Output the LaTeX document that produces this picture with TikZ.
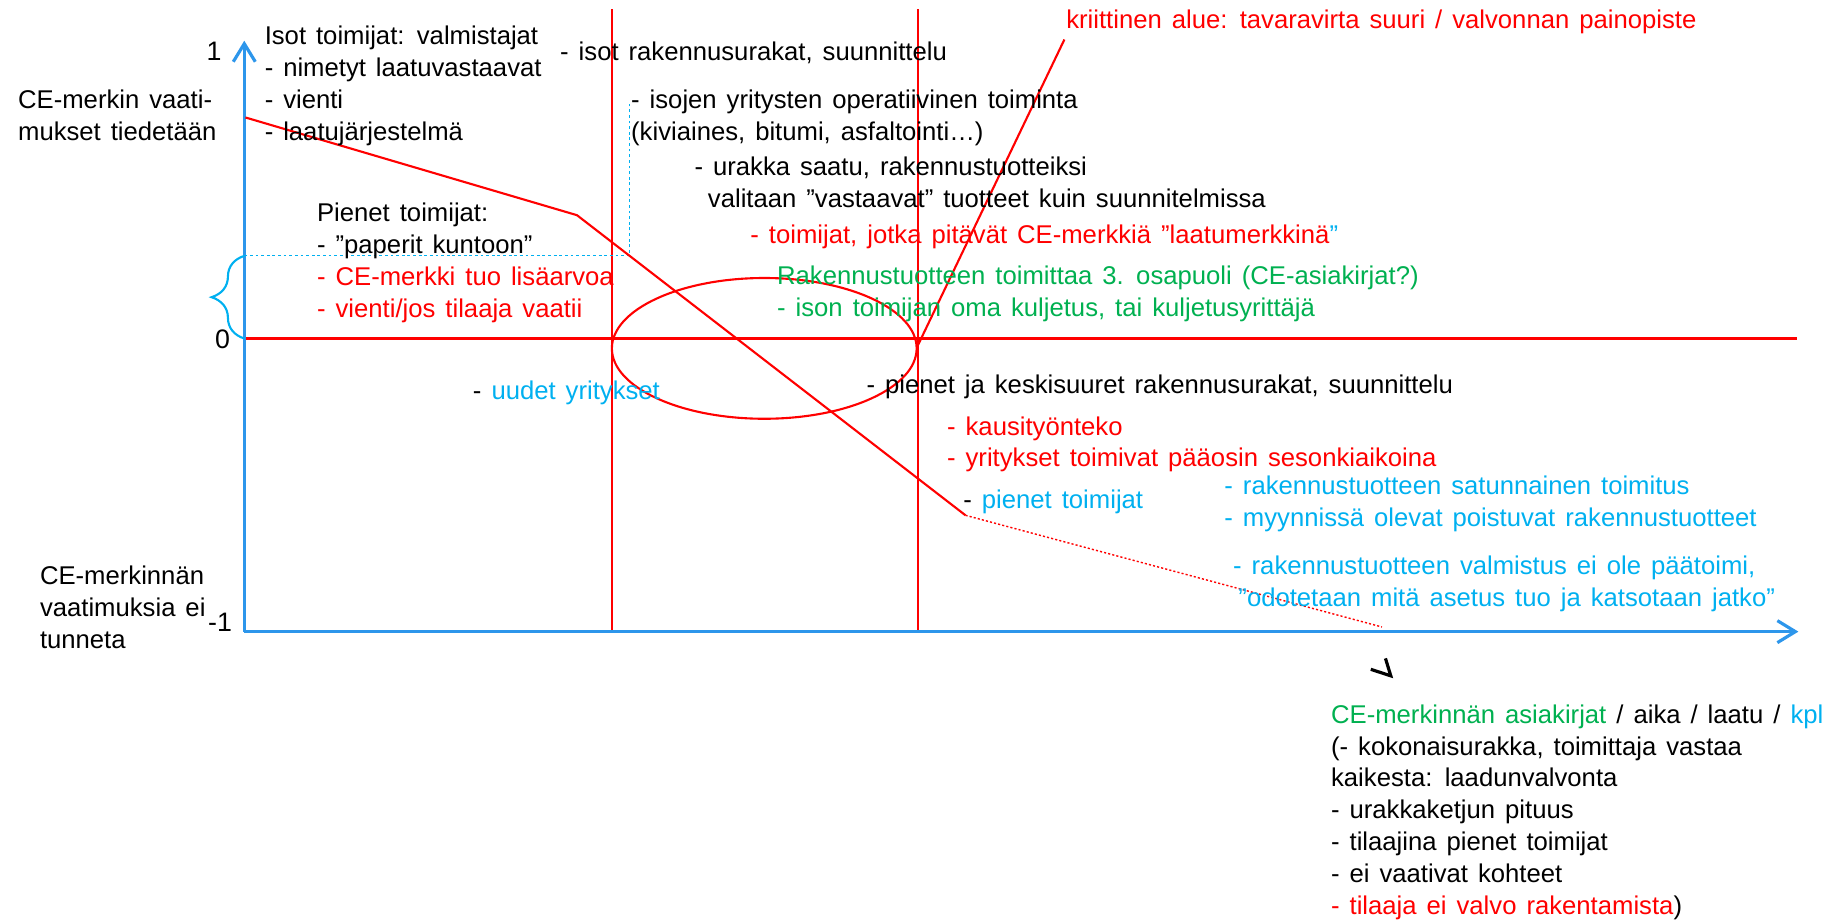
\documentclass[tikz,border=0pt]{standalone}
\usepackage{fontspec}
\setmainfont{Liberation Sans}[WordSpace=1.4]
\usepackage{xcolor}
\usetikzlibrary{arrows.meta, positioning, decorations.pathreplacing}
\definecolor{axisblue}{RGB}{45,150,235}
\definecolor{notegreen}{RGB}{0,176,80}
\definecolor{noteblue}{RGB}{0,176,240}
\tikzset{
    axis/.style={draw=axisblue, line width=0.9pt, -{Straight Barb[length=1.8mm, width=2.2mm]}},
    border/.style={draw=red, line width=0.5pt},
    zeroline/.style={draw=red, line width=1pt},
    trend/.style={draw=red, line width=0.6pt},
    guide/.style={draw=noteblue, line width=0.3pt, dash pattern=on 0.8pt off 0.8pt},
    % multi-line notes: base = baseline of the last line
    note/.style={anchor=base west, align=left, inner sep=0pt, font=\fontsize{7.3}{9.07}\selectfont},
    tick/.style={anchor=base east, inner sep=0pt, font=\fontsize{7.6}{9}\selectfont}
}

\begin{document}
\begin{tikzpicture}[x=0.011633cm, y=-0.011633cm]
    \useasboundingbox (0,0) rectangle (1568,793);

    % axes and grid lines
    \coordinate (o) at (210,543);
    \coordinate (ytop) at (210,35);
    \coordinate (xend) at (1546,543);
    \coordinate (z0) at (210,291);
    \coordinate (z1) at (1545,291);
    \coordinate (v1top) at (526,8);
    \coordinate (v1bot) at (526,543);
    \coordinate (v2top) at (789,8);
    \coordinate (v2bot) at (789,543);

    \draw[zeroline] (z0) -- (z1);
    \draw[border] (v1top) -- (v1bot);
    \draw[border] (v2top) -- (v2bot);
    \draw[axis] (o) -- (ytop);
    \draw[axis] (o) -- (xend);

    \node[tick] (t1) at (191,51.6) {1};
    \node[tick] (t0) at (198.3,299.4) {0};
    \node[tick] (tm1) at (200,543) {-1};

    % brace and dotted guide
    \coordinate (g0) at (210,220);
    \coordinate (g1) at (541,220);
    \coordinate (g2) at (541,88);
    \draw[noteblue, line width=0.6pt, decorate, decoration={brace, amplitude=9.3pt}] (z0) -- (g0);
    \draw[guide] (g0) -- (g1) -- (g2);

    % red curve, ellipse, critical line
    \coordinate (c0) at (211,101);
    \coordinate (c1) at (496,185);
    \coordinate (c2) at (830,443);
    \coordinate (c3) at (1188,539);
    \coordinate (k0) at (789,297);
    \coordinate (k1) at (915,34);
    \draw[trend] (c0) -- (c1) -- (c2);
    \draw[red, line width=0.4pt, dash pattern=on 0.6pt off 0.6pt] (c2) -- (c3);
    \draw[trend] (k0) -- (k1);
    \draw[trend] (657,299.5) ellipse [x radius=131, y radius=60.5];

    % small mark below the x axis
    \coordinate (m0) at (1191,566);
    \coordinate (m1) at (1195.6,581);
    \coordinate (m2) at (1178.4,575.4);
    \draw[line width=0.9pt] (m0) -- (m1) -- (m2);

    % texts
    \node[note] (tiedetaan) at (15,120.4) {CE-merkin vaati-\\mukset tiedetään};
    \node[note] (tunneta) at (33.8,557.7) {CE-merkinnän\\vaatimuksia ei\\tunneta};
    \node[note] (isot) at (227,120.7) {Isot toimijat: valmistajat\\- nimetyt laatuvastaavat\\- vienti\\- laatujärjestelmä};
    \node[note] (isoturakat) at (481,51.6) {- isot rakennusurakat, suunnittelu};
    \node[note] (operatiivinen) at (542,120.4) {- isojen yritysten operatiivinen toiminta\\(kiviaines, bitumi, asfaltointi…)};
    \node[note] (urakka) at (596.5,178.6) {- urakka saatu, rakennustuotteiksi\\\hspace*{3.8pt}valitaan ”vastaavat” tuotteet kuin suunnitelmissa};
    \node[note, text=red] (laatumerkki) at (644.5,209.2) {- toimijat, jotka pitävät CE-merkkiä ”laatumerkkinä\textcolor{noteblue}{”}};
    \node[note, text=red] (kriittinen) at (916,24.4) {kriittinen alue: tavaravirta suuri / valvonnan painopiste};
    \node[note] (pienet) at (272,272.8) {Pienet toimijat:\\- ”paperit kuntoon”\\\textcolor{red}{- CE-merkki tuo lisäarvoa}\\\textcolor{red}{- vienti/jos tilaaja vaatii}};
    \node[note, text=notegreen] (osapuoli) at (667.5,272.4) {Rakennustuotteen toimittaa 3. osapuoli (CE-asiakirjat?)\\- ison toimijan oma kuljetus, tai kuljetusyrittäjä};
    \node[note] (uudet) at (406,343.8) {- \textcolor{noteblue}{uudet yritykset}};
    \node[note] (keskisuuret) at (744.3,338) {- pienet ja keskisuuret rakennusurakat, suunnittelu};
    \node[note, text=red] (kausi) at (813.6,401.4) {- kausityönteko\\- yritykset toimivat pääosin sesonkiaikoina};
    \node[note] (pienetb) at (827.6,437) {- \textcolor{noteblue}{pienet toimijat}};
    \node[note, text=noteblue] (satunnainen) at (1052,452.9) {- rakennustuotteen satunnainen toimitus\\- myynnissä olevat poistuvat rakennustuotteet};
    \node[note, text=noteblue] (paatoimi) at (1059.5,521.7) {- rakennustuotteen valmistus ei ole päätoimi,\\\hspace*{1.5pt}”odotetaan mitä asetus tuo ja katsotaan jatko”};
    \node[note] (asiakirjat) at (1143.7,786.2) {\textcolor{notegreen}{CE-merkinnän asiakirjat} / aika / laatu / \textcolor{noteblue}{kpl}\\(- kokonaisurakka, toimittaja vastaa\\kaikesta: laadunvalvonta\\- urakkaketjun pituus\\- tilaajina pienet toimijat\\- ei vaativat kohteet\\\textcolor{red}{- tilaaja ei valvo rakentamista})};
\end{tikzpicture}
\end{document}
